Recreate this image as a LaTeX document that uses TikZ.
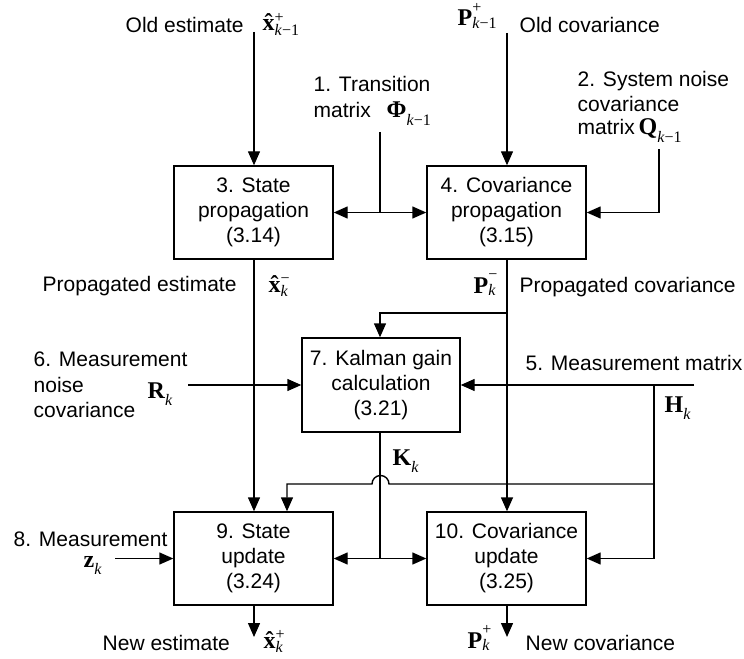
\documentclass[tikz,border=0pt]{standalone}
\usepackage{fontspec}
\setmainfont{Liberation Sans}
\newfontfamily\serifsym{Liberation Serif}
\usetikzlibrary{arrows.meta}

% symbol fonts: bold serif letters with small serif indices
\newcommand\bigsym{\fontsize{24bp}{28bp}\selectfont\serifsym\bfseries}
\newcommand\smallsym{\fontsize{16bp}{18bp}\selectfont\serifsym}
\newcommand\kk{\textit{k}}
\newcommand\vsb[3]{$\hbox{\bigsym #1}^{\hbox{\smallsym #2}}_{\hbox{\smallsym #3}}$}
\newcommand\vsub[2]{$\hbox{\bigsym #1}_{\hbox{\smallsym #2}}$}
% bold x with a circumflex set over it
\newcommand\xhat{\hbox{\bigsym\ooalign{x\cr\hidewidth ˆ\hidewidth\cr}}}
\newcommand\hx[2]{$\xhat^{\hbox{\smallsym #1}}_{\hbox{\smallsym #2}}$}

\begin{document}
\begin{tikzpicture}[x=1bp,y=-1bp,line width=1.4bp,
  box/.style={draw,minimum width=159bp,minimum height=93bp,align=center,
    inner sep=0pt,font=\fontsize{21bp}{25bp}\selectfont},
  arr/.style={-{Triangle[length=14bp,width=12bp]}},
  darr/.style={{Triangle[length=14bp,width=12bp]}-{Triangle[length=14bp,width=12bp]}},
  lbl/.style={inner sep=0pt,anchor=base west,font=\fontsize{21bp}{25bp}\selectfont},
  sym/.style={inner sep=0pt,anchor=base west}]
\useasboundingbox (0,0) rectangle (744,659);

% processing blocks
\node[box] (b3) at (253.5,212.5) {3. State\\propagation\\(3.14)};
\node[box] (b4) at (506.5,212.5) {4. Covariance\\propagation\\(3.15)};
\node[box,minimum width=158bp,minimum height=94bp] (b7) at (381,385) {7. Kalman gain\\calculation\\(3.21)};
\node[box] (b9) at (253.5,558.5) {9. State\\update\\(3.24)};
\node[box] (b10) at (506.5,558.5) {10. Covariance\\update\\(3.25)};

% free line ends and junctions
\coordinate (xin) at (254,32);
\coordinate (pin) at (507,33);
\coordinate (phin) at (380,132);
\coordinate (qin) at (659,149);
\coordinate (rin) at (188,385);
\coordinate (hin) at (694,385);
\coordinate (hdn) at (654,385);
\coordinate (hj) at (654,484);
\coordinate (jr) at (389,484);
\coordinate (kin) at (287,484);
\coordinate (pbr) at (507,313);
\coordinate (kj) at (380,558.5);
\coordinate (zin) at (115,558.5);
\coordinate (xout) at (254,637);
\coordinate (pout) at (507,637);

% propagation
\draw[arr] (xin) -- (xin |- b3.north);
\draw[arr] (pin) -- (pin |- b4.north);
\draw (phin) -- (phin |- b3.east);
\draw[darr] (b3.east) -- (b4.west);
\draw[arr] (qin) |- (b4.east);

% propagated estimate and covariance
\draw[arr] (xin |- b3.south) -- (xin |- b9.north);
\draw[arr] (pin |- b4.south) -- (pin |- b10.north);
\draw[arr] (pbr) -| (phin |- b7.north);

% gain calculation inputs
\draw[arr] (rin) -- (b7.west);
\draw[arr] (hin) -- (b7.east);
\draw[arr] (hdn) |- (b10.east);
\draw[arr] (hj) -- (jr) arc[start angle=0,end angle=180,radius=8.5bp] -- (kin) -- (kin |- b9.north);

% Kalman gain to the update blocks
\draw (phin |- b7.south) -- (kj);
\draw[darr] (b9.east) -- (b10.west);

% measurement and outputs
\draw[arr] (zin) -- (b9.west);
\draw[arr] (xin |- b9.south) -- (xout);
\draw[arr] (pin |- b10.south) -- (pout);

% labels
\node[lbl] (l1) at (125,33) {Old estimate};
\node[sym] (s1) at (262,31) {\hx{+}{\kk−1}};
\node[sym] (s2) at (457,26) {\vsb{P}{+}{\kk−1}};
\node[lbl] (l2) at (519,33) {Old covariance};
\node[lbl] (l3) at (313,92) {1. Transition};
\node[lbl] (l4) at (313,118) {matrix};
\node[sym] (s3) at (386,118) {\vsub{Φ}{\kk−1}};
\node[lbl] (l5) at (577,87) {2. System noise};
\node[lbl] (l6) at (577,112) {covariance};
\node[lbl] (l7) at (577,135) {matrix};
\node[sym] (s4) at (638,135) {\vsub{Q}{\kk−1}};
\node[lbl] (l8) at (42,291) {Propagated estimate};
\node[sym] (s5) at (268,292) {\hx{−}{\kk}};
\node[sym] (s6) at (473,293) {\vsb{P}{−}{\kk}};
\node[lbl] (l9) at (519,292) {Propagated covariance};
\node[lbl] (l10) at (33,366) {6. Measurement};
\node[lbl] (l11) at (33,392) {noise};
\node[lbl] (l12) at (33,417) {covariance};
\node[sym] (s7) at (147,398) {\vsub{R}{\kk}};
\node[lbl] (l13) at (525,370) {5. Measurement matrix};
\node[sym] (s8) at (664,412) {\vsub{H}{\kk}};
\node[sym] (s9) at (392,465) {\vsub{K}{\kk}};
\node[lbl] (l14) at (13,546) {8. Measurement};
\node[sym] (s10) at (83,567) {\vsub{z}{\kk}};
\node[lbl] (l15) at (102,650) {New estimate};
\node[sym] (s11) at (263,648) {\hx{+}{\kk}};
\node[sym] (s12) at (467,648) {\vsb{P}{+}{\kk}};
\node[lbl] (l16) at (525,650) {New covariance};
\end{tikzpicture}
\end{document}
